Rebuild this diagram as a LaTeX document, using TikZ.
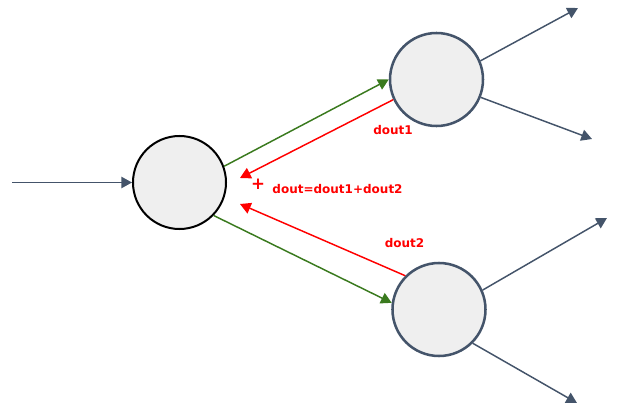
\documentclass[tikz,border=0pt]{standalone}
\usepackage{fontspec}
\newfontfamily\labelfont{DejaVu Sans}
\usetikzlibrary{arrows.meta}
\definecolor{slate}{HTML}{44546A}
\definecolor{dgreen}{HTML}{3A7A1E}
\definecolor{lred}{HTML}{FF0000}
\definecolor{cfill}{HTML}{EFEFEF}
\tikzset{
  neuron/.style={circle, fill=cfill, minimum size=93*0.75pt, inner sep=0pt, line width=1.9pt, draw=slate},
  firstneuron/.style={neuron, draw=black, line width=1.5pt},
  tip/.style={-{Triangle[length=8pt,width=8.5pt]}},
  outarrow/.style={tip, draw=slate, fill=slate, line width=1.1pt},
  fwd/.style={tip, draw=dgreen, fill=dgreen, line width=1.1pt},
  bwd/.style={tip, draw=lred, fill=lred, line width=1.1pt},
  lbl/.style={text=lred, font=\labelfont\bfseries\fontsize{9pt}{10pt}\selectfont, inner sep=0pt}
}
\begin{document}
\begin{tikzpicture}[x=0.75pt,y=-0.75pt]
\useasboundingbox (0,0) rectangle (640,414);
\node[firstneuron] (L) at (179.5,182.5) {};
\node[neuron] (T) at (436.5,79.5) {};
\node[neuron] (B) at (439,309.5) {};
\coordinate (in) at (12,182.5);
\coordinate (o1) at (578,8);
\coordinate (o2) at (592,139);
\coordinate (o3) at (607,218);
\coordinate (o4) at (577,403);
\coordinate (r1) at (240,178);
\coordinate (r2) at (240,204);
\draw[outarrow] (in) -- (L.west);
\draw[outarrow] (T.23) -- (o1);
\draw[outarrow] (T.-22) -- (o2);
\draw[outarrow] (B.24) -- (o3);
\draw[outarrow] (B.-45) -- (o4);
\draw[fwd] (L.20) -- (T.180);
\draw[fwd] (L.-44) -- (B.172);
\draw[bwd] (T.205) -- (r1);
\draw[bwd] (B.135) -- (r2);
\node[lbl] (d1) at (393,130) {dout1};
\node[lbl, font=\labelfont\bfseries\fontsize{12.5pt}{13pt}\selectfont] (plus) at (258,184) {+};
\node[lbl] (dsum) at (337.5,189.5) {dout=dout1+dout2};
\node[lbl] (d2) at (404.5,243.5) {dout2};
\end{tikzpicture}
\end{document}
